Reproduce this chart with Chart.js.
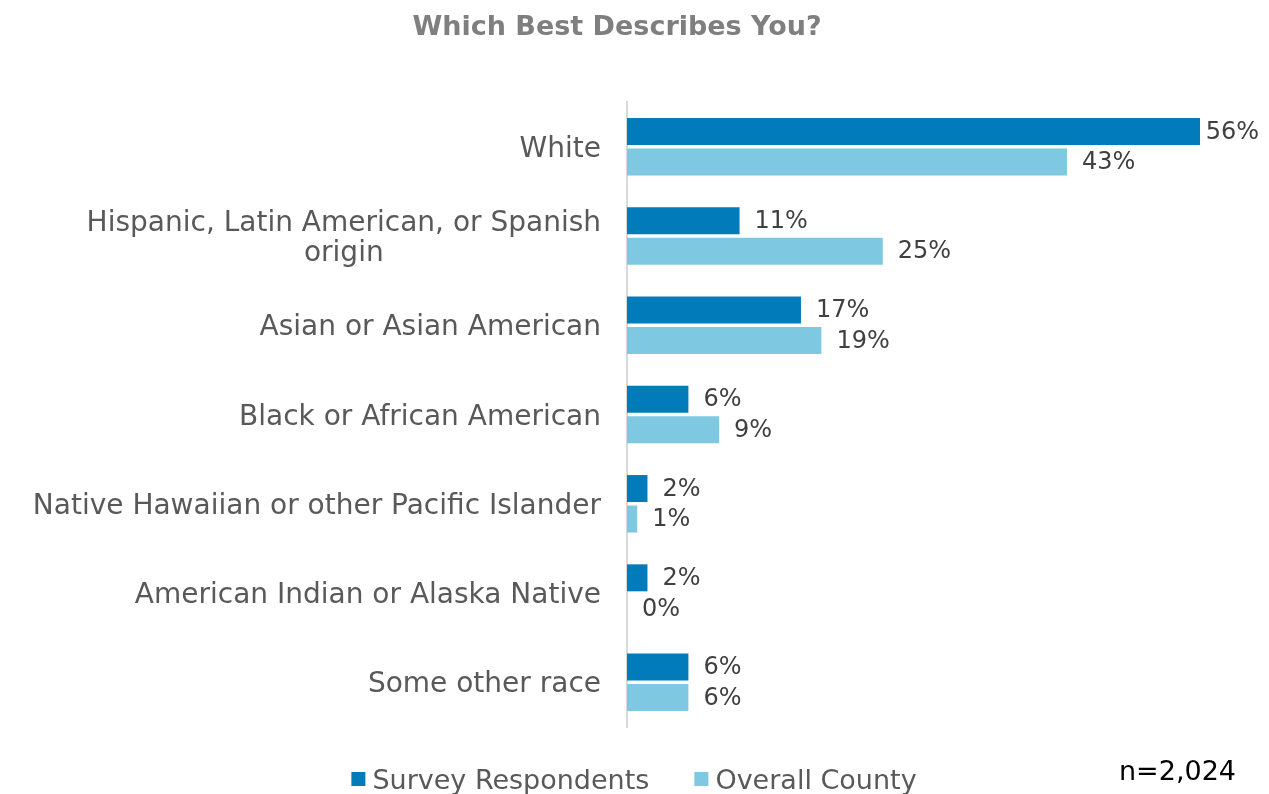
<!DOCTYPE html>
<html>
<head>
<meta charset="utf-8">
<style>
  html, body { margin: 0; padding: 0; background: #ffffff; }
  #wrap { width: 1269px; height: 794px; position: relative; }
</style>
<script src="https://cdn.jsdelivr.net/npm/chart.js@4.4.1/dist/chart.umd.min.js"></script>
</head>
<body>
<div id="wrap"><canvas id="chart"></canvas></div>
<script>
// Race / ethnicity breakdown: survey respondents vs. the county population
const categories = [
  'White',
  ['Hispanic, Latin American, or Spanish', 'origin'],
  'Asian or Asian American',
  'Black or African American',
  'Native Hawaiian or other Pacific Islander',
  'American Indian or Alaska Native',
  'Some other race'
];
const seriesNames = ['Survey Respondents', 'Overall County'];
const surveyRespondents = [56, 11, 17, 6, 2, 2, 6];
const overallCounty = [43, 25, 19, 9, 1, 0, 6];
const chartTitle = 'Which Best Describes You?';
const sampleNote = 'n=2,024';

const DARK = '#027bbb';
const LIGHT = '#7fc8e2';
const FONT = '"DejaVu Sans", sans-serif';

// Category labels: right-aligned block, multi-line labels centred within it
const categoryLabels = {
  id: 'categoryLabels',
  afterDraw(chart) {
    const { ctx } = chart;
    const y = chart.scales.y;
    const right = y.right - 26;
    ctx.save();
    ctx.font = '28px ' + FONT;
    ctx.fillStyle = '#595959';
    ctx.textBaseline = 'alphabetic';
    ctx.textAlign = 'center';
    categories.forEach((lab, i) => {
      const lines = Array.isArray(lab) ? lab : [lab];
      const cy = y.getPixelForTick(i);
      const lh = 30;
      const maxW = Math.max(...lines.map(l => ctx.measureText(l).width));
      const blockCenter = right - maxW / 2;
      lines.forEach((l, k) => {
        const ly = cy + (k - (lines.length - 1) / 2) * lh + 10;
        ctx.fillText(l, blockCenter, ly);
      });
    });
    ctx.restore();
  }
};

// Value labels to the right of each bar
const valueLabels = {
  id: 'valueLabels',
  afterDatasetsDraw(chart) {
    const { ctx } = chart;
    ctx.save();
    ctx.font = '24px ' + FONT;
    ctx.fillStyle = '#404040';
    ctx.textAlign = 'left';
    ctx.textBaseline = 'middle';
    chart.data.datasets.forEach((ds, di) => {
      const meta = chart.getDatasetMeta(di);
      meta.data.forEach((bar, i) => {
        const txt = ds.data[i] + '%';
        const w = ctx.measureText(txt).width;
        let x = bar.x + 15;
        if (x + w > chart.width - 10) x = Math.max(bar.x + 2, chart.width - 10 - w);
        ctx.fillText(txt, x, bar.y + 1);
      });
    });
    ctx.restore();
  }
};

// Title, legend and sample size note
const decorations = {
  id: 'decorations',
  afterDraw(chart) {
    const { ctx } = chart;
    ctx.save();
    ctx.font = 'bold 27px ' + FONT;
    ctx.fillStyle = '#7f7f7f';
    ctx.textAlign = 'center';
    ctx.textBaseline = 'alphabetic';
    ctx.fillText(chartTitle, 617, 35);

    // legend
    ctx.font = '27px ' + FONT;
    ctx.textAlign = 'left';
    const colors = [DARK, LIGHT];
    const box = 14, gapText = 7, gapItem = 45;
    const widths = seriesNames.map(n => box + gapText + ctx.measureText(n).width);
    const total = widths.reduce((a, b) => a + b, 0) + gapItem;
    let x = 634 - total / 2;
    seriesNames.forEach((n, i) => {
      ctx.fillStyle = colors[i];
      ctx.fillRect(x, 772, box, box);
      ctx.fillStyle = '#595959';
      ctx.fillText(n, x + box + gapText, 789);
      x += widths[i] + gapItem;
    });

    // sample size
    ctx.fillStyle = '#000000';
    ctx.font = '27px ' + FONT;
    ctx.textAlign = 'right';
    ctx.fillText(sampleNote, 1236, 780);
    ctx.restore();
  }
};

new Chart(document.getElementById('chart'), {
  type: 'bar',
  data: {
    labels: categories,
    datasets: [
      { label: seriesNames[0], data: surveyRespondents, backgroundColor: DARK },
      { label: seriesNames[1], data: overallCounty, backgroundColor: LIGHT }
    ]
  },
  options: {
    indexAxis: 'y',
    responsive: true,
    maintainAspectRatio: false,
    animation: false,
    devicePixelRatio: 1,
    layout: { padding: { top: 102, bottom: 67, right: 69, left: 0 } },
    datasets: {
      bar: { categoryPercentage: 0.683, barPercentage: 0.885 }
    },
    plugins: {
      legend: { display: false },
      title: { display: false },
      tooltip: { enabled: false }
    },
    scales: {
      x: {
        min: 0,
        max: 56,
        display: false,
        grid: { display: false }
      },
      y: {
        grid: { display: false, drawTicks: false },
        border: { display: true, color: '#d9d9d9', width: 2 },
        ticks: { display: false },
        afterFit(scale) { scale.width = 627; }
      }
    }
  },
  plugins: [categoryLabels, valueLabels, decorations]
});
</script>
</body>
</html>
